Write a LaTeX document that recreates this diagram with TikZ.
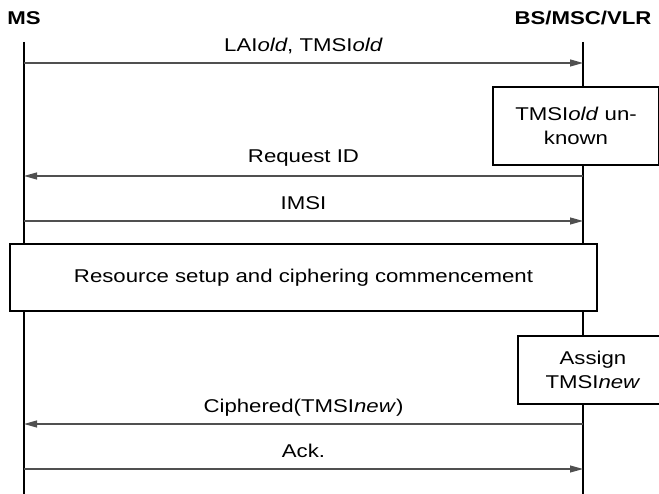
\documentclass[tikz,border=0pt]{standalone}
\usepackage{fontspec}
\setmainfont[FakeStretch=1.2]{Liberation Sans}
\usetikzlibrary{positioning,arrows.meta}
\definecolor{LineGray}{RGB}{80,80,80}

\begin{document}
\begin{tikzpicture}[x=1pt,y=-1pt,
    every node/.style={font=\fontsize{18.5}{24}\selectfont},
    head/.style={font=\fontsize{18.5}{24}\selectfont\bfseries},
    life/.style={line width=2.5pt},
    msg/.style={LineGray, line width=1.2pt, -{Triangle[length=13pt,width=7pt]}},
    lbl/.style={above=3pt, text depth=4.5pt, black},
    stepbox/.style={draw, line width=2pt, fill=white, align=center, inner sep=0pt}]
  \useasboundingbox (0,0) rectangle (659,494);
  % lifelines
  \node[head] (ms) at (24,18) {MS};
  \node[head] (bs) at (583,18) {BS/MSC/VLR};
  \coordinate (msTop) at (24,42);
  \coordinate (bsTop) at (583,42);
  \coordinate (msEnd) at (24,494);
  \coordinate (bsEnd) at (583,494);
  \draw[life] (msTop) -- (msEnd);
  \draw[life] (bsTop) -- (bsEnd);
  \foreach \n/\y in {lai/63,req/176,imsi/221,ciph/424,ack/469} {
    \coordinate (ms-\n) at (24,\y);
    \coordinate (bs-\n) at (583,\y);
  }
  % messages
  \draw[msg] (ms-lai) -- node[lbl] {LAI\textit{old}, TMSI\textit{old}} (bs-lai);
  \draw[msg] (bs-req) -- node[lbl, above=5pt] {Request ID} (ms-req);
  \draw[msg] (ms-imsi) -- node[lbl] {IMSI} (bs-imsi);
  \draw[msg] (bs-ciph) -- node[lbl] {Ciphered(TMSI\textit{new})} (ms-ciph);
  \draw[msg] (ms-ack) -- node[lbl] {Ack.} (bs-ack);
  % boxes
  \node[stepbox, minimum width=166pt, minimum height=78pt] (unknown) at (576,126)
    {TMSI\textit{old} un-\\known};
  \node[stepbox, minimum width=587pt, minimum height=67pt] (setup) at (303.5,277.5)
    {Resource setup and ciphering commencement};
  \node[stepbox, minimum width=150pt, minimum height=68pt] (assign) at (593,370)
    {Assign\\TMSI\textit{new}};
\end{tikzpicture}
\end{document}
